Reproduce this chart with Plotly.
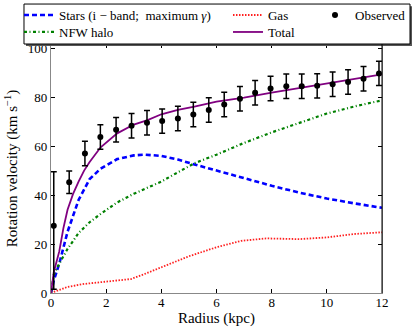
import plotly.graph_objects as go

# model curves
r_model = [0, 0.1, 0.3, 0.6, 1.0, 1.4, 1.8, 2.4, 3.0, 3.4, 4.0, 4.6, 5.2, 6.0, 7.0, 8.0, 9.0, 10.0, 11.0, 12.0]
v_stars = [0, 5, 12, 25, 38, 46.5, 50.8, 54.7, 56.2, 56.5, 56.0, 54.5, 52.5, 50.0, 46.8, 43.8, 41.0, 38.6, 36.6, 34.8]
v_nfw = [0, 7.5, 12, 18, 24.5, 28.9, 32.3, 37.0, 40.5, 42.5, 45.5, 49.3, 53.0, 56.5, 61.3, 65.6, 69.6, 73.3, 76.2, 78.7]

r_total = [0, 0.1, 0.3, 0.45, 0.6, 0.8, 1.0, 1.2, 1.4, 1.8, 2.4, 3.0, 3.5, 4.0, 4.6, 5.2, 6.0, 7.0, 8.0, 9.0, 10.0, 11.0, 12.0]
v_total = [0, 8.5, 17, 26.5, 34, 40.5, 45.5, 50.0, 53.5, 59.5, 65.2, 68.8, 70.6, 73.0, 74.8, 76.1, 78.2, 79.8, 81.8, 83.7, 85.5, 87.3, 89.3]

r_gas = [0, 0.3, 0.6, 1.2, 2.0, 2.9, 3.4, 4.0, 5.0, 6.0, 6.9, 7.8, 9.0, 10.0, 11.0, 12.0]
v_gas = [0, 1.3, 2.5, 3.7, 4.6, 5.7, 7.8, 10.5, 15.0, 18.7, 21.3, 22.3, 22.0, 22.7, 24.1, 24.8]

# observed rotation curve
r_obs = [0.10, 0.66, 1.23, 1.79, 2.36, 2.92, 3.48, 4.03, 4.60, 5.16, 5.72,
         6.28, 6.85, 7.40, 7.96, 8.53, 9.09, 9.65, 10.21, 10.77, 11.33, 11.89]
v_obs = [27.5, 45.2, 57.0, 63.7, 66.7, 68.3, 69.5, 70.2, 71.3, 72.9, 74.7,
         77.0, 79.3, 81.8, 83.5, 84.4, 84.4, 84.6, 85.3, 86.2, 87.5, 89.7]
err_up = [22, 4.6, 5, 5, 5, 5, 5, 5, 5, 5, 5, 5, 5, 5, 5, 5, 5, 5, 5, 5, 5, 5]
err_down = [26, 4.6, 5, 5, 5, 5, 5, 5, 5, 5, 5, 5, 5, 5, 5, 5, 5, 5, 5, 5, 5, 5]

FONT = "Liberation Serif"

fig = go.Figure()
fig.add_trace(go.Scatter(x=r_model, y=v_stars, mode="lines", name="Stars (i − band;  maximum <i>γ</i>)",
                         line=dict(color="blue", width=2.6, dash="5px,3px"), legend="legend"))
fig.add_trace(go.Scatter(x=r_model, y=v_nfw, mode="lines", name="NFW halo",
                         line=dict(color="green", width=2.2, dash="3px,2.5px,1px,2.5px"), legend="legend2"))
fig.add_trace(go.Scatter(x=r_gas, y=v_gas, mode="lines", name="Gas",
                         line=dict(color="#ff2020", width=1.8, dash="1.5px,1.5px"), legend="legend3"))
fig.add_trace(go.Scatter(x=r_total, y=v_total, mode="lines", name="Total",
                         line=dict(color="purple", width=1.8), legend="legend4"))
fig.add_trace(go.Scatter(x=r_obs, y=v_obs, mode="markers", name="Observed",
                         marker=dict(color="black", size=6),
                         error_y=dict(type="data", array=err_up, arrayminus=err_down,
                                      color="black", thickness=1.5, width=3),
                         legend="legend5"))

# legend frame (shadow + box) drawn over the top of the axes
fig.add_shape(type="rect", xref="paper", yref="paper", x0=-0.0756, x1=1.0906, y0=0.992, y1=1.152,
              line=dict(width=0), fillcolor="#555555", layer="above")
fig.add_shape(type="rect", xref="paper", yref="paper", x0=-0.0816, x1=1.0846, y0=1.0, y1=1.1605,
              line=dict(color="black", width=1), fillcolor="white", layer="above")
# right spine
fig.add_shape(type="line", xref="paper", yref="paper", x0=1, x1=1, y0=0, y1=1,
              line=dict(color="black", width=1), layer="above")

leg = dict(bgcolor="rgba(0,0,0,0)", borderwidth=0, font=dict(family=FONT, size=13, color="black"),
           xanchor="left", yanchor="middle")
row1, row2 = 1.1163, 1.0481
fig.update_layout(
    legend=dict(leg, x=-0.0967, y=row1),
    legend2=dict(leg, x=-0.0967, y=row2),
    legend3=dict(leg, x=0.5347, y=row1),
    legend4=dict(leg, x=0.5347, y=row2),
    legend5=dict(leg, x=0.7976, y=row1),
)

fig.update_layout(
    width=415, height=332,
    margin=dict(l=51, r=33, t=44, b=39, autoexpand=False),
    plot_bgcolor="white", paper_bgcolor="white",
    font=dict(family=FONT, size=13, color="black"),
    showlegend=True,
)
fig.update_xaxes(range=[0, 12], tickvals=[0, 2, 4, 6, 8, 10, 12], ticks="inside", ticklen=4,
                 tickcolor="black", mirror="ticks", showline=True, linecolor="#888888", linewidth=1.3,
                 showgrid=False, zeroline=False, tickfont=dict(size=13), ticklabelstandoff=-3,
                 title=dict(text="Radius (kpc)", font=dict(size=15), standoff=2))
fig.update_yaxes(range=[0, 101.7], tickvals=[0, 20, 40, 60, 80, 100], ticks="inside", ticklen=4,
                 tickcolor="black", mirror="ticks", showline=True, linecolor="#888888", linewidth=1.3,
                 showgrid=False, zeroline=False, tickfont=dict(size=13),
                 title=dict(text="Rotation velocity (km s<sup>−1</sup>)", font=dict(size=15), standoff=6))

fig.write_html("out.html", config={"displayModeBar": False},
               post_script="document.body.style.margin='0';")
